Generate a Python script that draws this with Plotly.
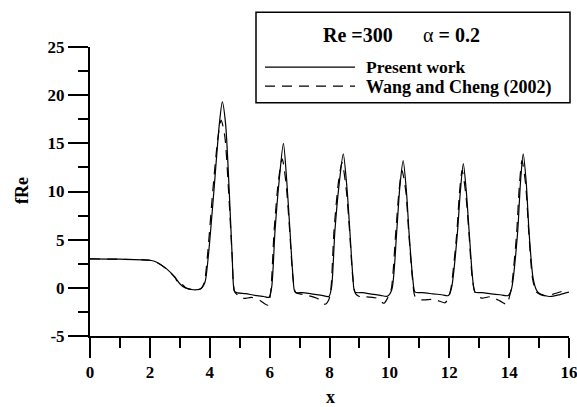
import plotly.graph_objects as go

# ---- data ----
present_x = [0, 1.0, 2.0, 2.23, 2.56, 2.84, 3.0, 3.17, 3.45, 3.7, 3.84, 3.95, 4.14, 4.32, 4.42, 4.53, 4.65, 4.75, 4.82,
             4.9, 5.2, 5.5, 5.8, 5.98, 6.07, 6.18, 6.32, 6.46, 6.57, 6.68, 6.78, 6.85,
             7.1, 7.4, 7.7, 7.98, 8.07, 8.18, 8.33, 8.46, 8.58, 8.68, 8.78, 8.85,
             9.1, 9.4, 9.7, 9.93, 10.08, 10.24, 10.35, 10.46, 10.57, 10.66, 10.78, 10.86,
             11.1, 11.45, 11.75, 11.97, 12.08, 12.27, 12.37, 12.47, 12.57, 12.67, 12.78, 12.86,
             13.1, 13.4, 13.7, 13.97, 14.08, 14.28, 14.38, 14.47, 14.57, 14.67, 14.8, 14.92,
             15.03, 15.36, 15.7, 16.0]
present_y = [3.0, 2.97, 2.86, 2.66, 1.97, 1.1, 0.42, 0.0, -0.2, -0.1, 0.58, 3.2, 10.1, 17.0, 19.3, 17.0, 10.1, 3.2, -0.3,
             -0.5, -0.6, -0.78, -0.9, -0.98, 0.1, 5.9, 11.2, 15.0, 11.2, 5.9, 1.2, -0.45,
             -0.5, -0.63, -0.75, -0.9, 0.1, 5.9, 11.0, 13.9, 10.5, 5.9, 1.2, -0.45,
             -0.5, -0.65, -0.78, -0.88, -0.2, 5.6, 10.5, 13.2, 10.0, 5.6, 1.0, -0.45,
             -0.5, -0.62, -0.72, -0.8, 0.06, 5.6, 10.0, 12.9, 10.0, 5.6, 1.0, -0.45,
             -0.5, -0.62, -0.72, -0.8, -0.1, 5.6, 11.0, 13.9, 11.0, 5.6, 1.0, -0.28,
             -0.62, -0.9, -0.7, -0.45]

wang_x = [0, 1.0, 2.0, 2.23, 2.56, 2.84, 2.95, 3.05, 3.2, 3.45, 3.7, 3.82, 3.92, 4.1, 4.27, 4.38, 4.5, 4.63, 4.75, 4.83,
          4.95, 5.12, 5.4, 5.68, 5.94, 6.03, 6.15, 6.29, 6.42, 6.55, 6.67, 6.78, 6.87,
          7.01, 7.29, 7.6, 7.85, 7.98, 8.05, 8.15, 8.3, 8.42, 8.56, 8.67, 8.78, 8.87,
          9.05, 9.24, 9.58, 9.82, 9.95, 10.06, 10.21, 10.32, 10.42, 10.55, 10.65, 10.77, 10.86,
          11.08, 11.5, 11.86, 11.98, 12.06, 12.25, 12.34, 12.43, 12.55, 12.66, 12.77, 12.88,
          13.08, 13.36, 13.69, 13.92, 14.02, 14.08, 14.25, 14.34, 14.43, 14.55, 14.66, 14.78, 14.9,
          15.05, 15.3, 15.47, 15.75]
wang_y = [3.0, 2.97, 2.86, 2.64, 1.95, 1.05, 0.5, 0.45, 0.0, -0.2, -0.1, 0.6, 3.2, 10.0, 15.5, 17.4, 15.8, 10.0, 3.2, -0.4,
          -0.8, -1.1, -1.0, -1.32, -1.8, -0.6, 5.9, 11.0, 13.4, 10.8, 5.9, 1.0, -0.5,
          -0.62, -0.8, -1.1, -1.7, -1.2, 0.0, 5.9, 11.0, 13.0, 10.2, 5.9, 1.0, -0.6,
          -0.97, -0.93, -1.07, -1.6, -1.0, -0.2, 5.6, 10.0, 12.2, 10.0, 5.6, 1.0, -0.9,
          -1.25, -1.2, -1.55, -1.0, 0.0, 5.6, 9.8, 12.2, 9.8, 5.6, 1.0, -0.6,
          -1.07, -0.93, -1.35, -1.7, -0.8, 0.0, 5.6, 10.5, 13.2, 10.8, 5.6, 1.0, -0.4,
          -0.7, -0.85, -0.65, -0.38]

x_ticks = [0, 2, 4, 6, 8, 10, 12, 14, 16]
y_ticks = [-5, 0, 5, 10, 15, 20, 25]

FONT = "Liberation Serif, Times New Roman, serif"

fig = go.Figure()
fig.add_trace(go.Scatter(x=present_x, y=present_y, mode="lines", name="Present work",
                         line=dict(color="black", width=1.2, shape="spline", smoothing=0.7),
                         showlegend=False))
fig.add_trace(go.Scatter(x=wang_x, y=wang_y, mode="lines", name="Wang and Cheng (2002)",
                         line=dict(color="black", width=1.2, dash="10px,7px", shape="spline", smoothing=0.7),
                         showlegend=False))

axis_common = dict(showgrid=False, zeroline=False, showline=True, linecolor="black", linewidth=2,
                   ticks="outside", ticklen=20, tickwidth=2, tickcolor="black", automargin=False,
                   ticklabeloverflow="allow",
                   tickfont=dict(family=FONT, size=17, color="black", weight="bold"))

fig.update_xaxes(range=[0, 16], tickvals=x_ticks, ticktext=[str(v) for v in x_ticks],
                 minor=dict(dtick=1, tick0=0, ticks="outside", ticklen=10, tickwidth=2, tickcolor="black"),
                 **axis_common)
fig.update_yaxes(range=[-5, 25], tickvals=y_ticks, ticktext=[str(v) for v in y_ticks],
                 minor=dict(dtick=2.5, tick0=0, ticks="outside", ticklen=10, tickwidth=2, tickcolor="black"),
                 **axis_common)

# ---- legend box drawn in paper coordinates (pixels -> paper fraction) ----
def px_x(p):
    return (p - 90) / 479.0

def px_y(p):
    return (336 - p) / 289.2

shapes = [
    dict(type="rect", xref="paper", yref="paper", x0=px_x(256), x1=px_x(570), y0=px_y(102.5), y1=px_y(12),
         line=dict(color="black", width=1.5), fillcolor="white", layer="above"),
    dict(type="line", xref="paper", yref="paper", x0=px_x(265), x1=px_x(355), y0=px_y(67), y1=px_y(67),
         line=dict(color="black", width=1.2)),
    dict(type="line", xref="paper", yref="paper", x0=px_x(265), x1=px_x(355), y0=px_y(86), y1=px_y(86),
         line=dict(color="black", width=1.2, dash="10px,7px")),
]
annotations = [
    dict(text="<b>Re =300</b>", x=px_x(321), y=px_y(35), xref="paper", yref="paper",
         xanchor="left", yanchor="middle", showarrow=False, font=dict(family=FONT, size=20, color="black")),
    dict(text="α <b>= 0.2</b>", x=px_x(421), y=px_y(35), xref="paper", yref="paper",
         xanchor="left", yanchor="middle", showarrow=False, font=dict(family=FONT, size=20, color="black")),
    dict(text="<b>Present work</b>", x=px_x(364), y=px_y(67), xref="paper", yref="paper",
         xanchor="left", yanchor="middle", showarrow=False, font=dict(family=FONT, size=17.5, color="black")),
    dict(text="<b>Wang and Cheng (2002)</b>", x=px_x(364), y=px_y(87), xref="paper", yref="paper",
         xanchor="left", yanchor="middle", showarrow=False, font=dict(family=FONT, size=18, color="black")),
    # axis titles
    dict(text="<b>x</b>", x=px_x(330), y=px_y(397), xref="paper", yref="paper",
         xanchor="center", yanchor="middle", showarrow=False, font=dict(family=FONT, size=18, color="black")),
    dict(text="<b>fRe</b>", x=px_x(22), y=px_y(191), xref="paper", yref="paper", textangle=-90,
         xanchor="center", yanchor="middle", showarrow=False, font=dict(family=FONT, size=18, color="black")),
]

fig.update_layout(
    width=577, height=407,
    margin=dict(l=90, r=8, t=47, b=71, pad=0),
    paper_bgcolor="white", plot_bgcolor="white",
    shapes=shapes, annotations=annotations,
    showlegend=False,
)

# remove the default 8px page margin and scrollbars so the figure fills the window exactly
fig.write_html("out.html",
               config={"displayModeBar": False},
               post_script="document.body.style.margin='0';document.body.style.overflow='hidden';")
